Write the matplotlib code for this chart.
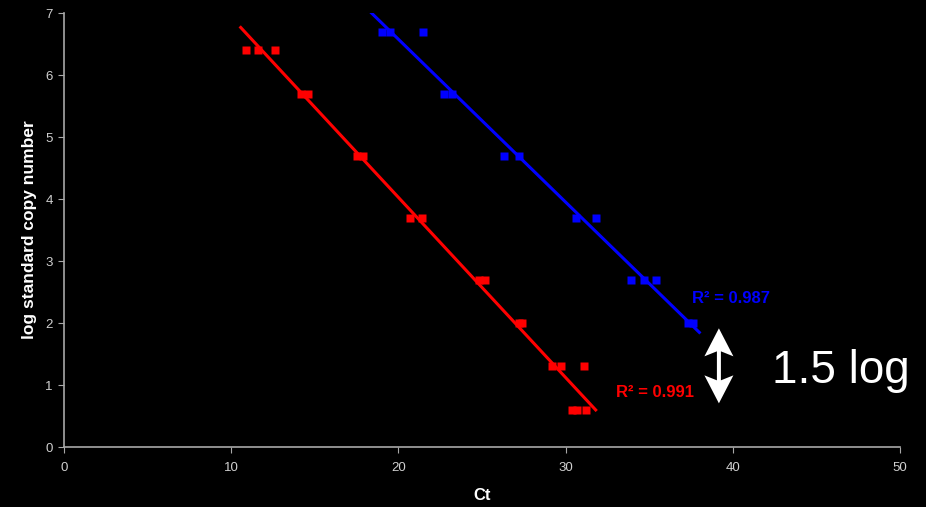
import numpy as np
import matplotlib.pyplot as plt
from matplotlib.patches import Polygon
from matplotlib.transforms import ScaledTranslation

plt.rcParams['font.family'] = ['Liberation Sans', 'DejaVu Sans']

# red standard curve (Ct, log copy number)
red_ct = [10.9, 11.6, 12.6, 14.2, 14.6, 17.5, 17.9, 20.7, 21.4, 24.8, 25.2,
          27.2, 27.4, 29.2, 29.7, 31.1, 30.4, 30.7, 31.2]
red_log = [6.4, 6.4, 6.4, 5.7, 5.7, 4.7, 4.7, 3.7, 3.7, 2.7, 2.7,
           2.0, 2.0, 1.3, 1.3, 1.3, 0.6, 0.6, 0.6]

# blue standard curve
blue_ct = [19.0, 19.5, 21.5, 22.7, 23.2, 26.3, 27.2, 30.6, 31.8,
           33.9, 34.7, 35.4, 37.3, 37.6]
blue_log = [6.7, 6.7, 6.7, 5.7, 5.7, 4.7, 4.7, 3.7, 3.7,
            2.7, 2.7, 2.7, 2.0, 2.0]

red_r2 = 'R² = 0.991'
blue_r2 = 'R² = 0.987'
gap_label = '1.5 log'

RED = '#ff0000'
BLUE = '#0000ff'
GREY = '#a8a8a8'

fig = plt.figure(figsize=(9.26, 5.07), dpi=100, facecolor='black')
ax = fig.add_axes([0.0691, 0.1183, 0.9028, 0.8557], facecolor='black')


def trend(ax, x, y, color, pad_lo, pad_hi):
    k, b = np.polyfit(x, y, 1)
    xs = np.array([min(x) - pad_lo, max(x) + pad_hi])
    ax.plot(xs, k * xs + b, color=color, lw=2.2, zorder=2)


ax.plot(red_ct, red_log, 's', color=RED, ms=6, mec='none', zorder=3)
ax.plot(blue_ct, blue_log, 's', color=BLUE, ms=6, mec='none', zorder=3)
trend(ax, red_ct, red_log, RED, 0.33, 0.6)
trend(ax, blue_ct, blue_log, BLUE, 0.6, 0.4)

ax.text(33.0, 0.81, red_r2, color=RED, fontsize=12, fontweight='bold',
        va='baseline')
ax.text(37.56, 2.32, blue_r2, color=BLUE, fontsize=12, fontweight='bold',
        va='baseline')

# double-headed white arrow (shape in inches, anchored at a data point)
arrow_shape = np.array([
    (0, 37.5), (14.5, 9.5), (2, 14.5), (2, -14.5), (14.5, -9.5),
    (0, -37.5), (-14.5, -9.5), (-2, -14.5), (-2, 14.5), (-14.5, 9.5),
]) / 100.0
tr = fig.dpi_scale_trans + ScaledTranslation(39.17, 1.31, ax.transData)
ax.add_patch(Polygon(arrow_shape, closed=True, facecolor='white',
                     edgecolor='none', transform=tr, zorder=4))
ax.text(42.35, 1.03, gap_label, color='white', fontsize=33, va='baseline')

ax.set_xlim(0, 50)
ax.set_ylim(0, 7)
ax.set_xticks(range(0, 51, 10))
ax.set_yticks(range(0, 8))
for s in ['top', 'right']:
    ax.spines[s].set_visible(False)
for s in ['left', 'bottom']:
    ax.spines[s].set_color(GREY)
    ax.spines[s].set_linewidth(1.2)
ax.tick_params(colors=GREY, labelsize=9.5, length=4, labelcolor='#d0d0d0')
ax.tick_params(axis='x', pad=7)
ax.tick_params(axis='y', pad=4)
ax.set_xlabel('Ct', color='white', fontsize=12, fontweight='bold', labelpad=10)
ax.set_ylabel('log standard copy number', color='white', fontsize=12.5,
              fontweight='bold', labelpad=6)

fig.savefig('out.png', dpi=100, facecolor='black')
